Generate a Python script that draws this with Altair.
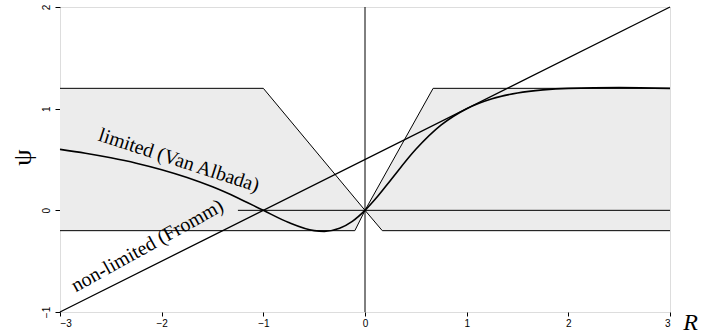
import altair as alt
import pandas as pd

# Van Albada limited curve
R_curve = [-3, -2.75, -2.5, -2.25, -2, -1.75, -1.5, -1.25, -1, -0.75, -0.5, -0.4,
           -0.25, -0.125, 0, 0.125, 0.25, 0.5, 0.75, 1, 1.25, 1.5, 1.75, 2, 2.5, 3]
psi_curve = [0.6, 0.562, 0.517, 0.464, 0.4, 0.323, 0.231, 0.122, 0, -0.12, -0.2, -0.207,
             -0.176, -0.108, 0, 0.138, 0.294, 0.6, 0.84, 1.0, 1.098, 1.154, 1.185, 1.2, 1.207, 1.2]

# Fromm (non-limited) straight line
R_fromm = [-3, 3]
psi_fromm = [-1, 2]

# Shaded region pieces
R_left = [-3, -1, -0.1, 0]
low_left = [-0.2, -0.2, -0.2, 0]
up_left = [1.2, 1.2, 0.12, 0]
R_right = [0, 0.17, 0.67, 3]
low_right = [0, -0.2, -0.2, -0.2]
up_right = [0, 0.3, 1.2, 1.2]

# Region outlines (polygon vertices)
outline_left_R = [-3, -1, 0, -0.1, -3]
outline_left_psi = [1.2, 1.2, 0, -0.2, -0.2]
outline_right_R = [3, 0.67, 0, 0.17, 3]
outline_right_psi = [1.2, 1.2, 0, -0.2, -0.2]

# Reference lines
hline_R = [-1.25, 3]
vline_psi = [-1, 2]

x_ticks = [-3, -2, -1, 0, 1, 2, 3]
y_ticks = [-1, 0, 1, 2]

label_text = ["limited (Van Albada)", "non-limited (Fromm)"]
label_R = [-1.83, -2.14]
label_psi = [0.49, -0.35]
label_angle = [18, 331]

xs = alt.Scale(domain=[-3, 3], nice=False, zero=False)
ys = alt.Scale(domain=[-1, 2], nice=False, zero=False)

FILL = "#ececec"

xaxis = alt.Axis(values=x_ticks, format="d", grid=False, domain=False,
                 labelFont="Liberation Sans", labelFontSize=10, labelColor="black",
                 tickColor="black", tickSize=4, labelPadding=2,
                 title="R", titleFont="Liberation Serif", titleFontSize=24,
                 titleFontStyle="italic", titleFontWeight="normal", titleColor="black",
                 titleX=630, titleY=10, titleAlign="center", titleBaseline="middle")
yaxis = alt.Axis(values=y_ticks, format="d", grid=False, domain=False,
                 labelFont="Liberation Sans", labelFontSize=10, labelColor="black",
                 labelAngle=270, labelAlign="center", labelBaseline="bottom",
                 tickColor="black", tickSize=5, labelPadding=4,
                 title="ψ", titleFont="Liberation Serif", titleFontSize=26,
                 titleFontWeight="normal", titleColor="black",
                 titleX=-38, titleY=150, titleAngle=270,
                 titleAlign="center", titleBaseline="middle")

df_left = pd.DataFrame({"R": R_left, "lo": low_left, "hi": up_left})
df_right = pd.DataFrame({"R": R_right, "lo": low_right, "hi": up_right})

area_left = alt.Chart(df_left).mark_area(color=FILL, opacity=1).encode(
    x=alt.X("R:Q", scale=xs, axis=xaxis),
    y=alt.Y("lo:Q", scale=ys, axis=yaxis),
    y2="hi:Q")
area_right = alt.Chart(df_right).mark_area(color=FILL, opacity=1).encode(
    x=alt.X("R:Q", scale=xs), y=alt.Y("lo:Q", scale=ys), y2="hi:Q")

ol_rows = []
for i, (r, p) in enumerate(zip(outline_left_R, outline_left_psi)):
    ol_rows.append({"R": r, "psi": p, "o": i, "g": "L"})
for i, (r, p) in enumerate(zip(outline_right_R, outline_right_psi)):
    ol_rows.append({"R": r, "psi": p, "o": i, "g": "Rt"})
outline = alt.Chart(pd.DataFrame(ol_rows)).mark_line(color="black", strokeWidth=1).encode(
    x=alt.X("R:Q", scale=xs), y=alt.Y("psi:Q", scale=ys), order="o:Q", detail="g:N")

hline = alt.Chart(pd.DataFrame({"R": hline_R, "psi": [0, 0]})).mark_line(
    color="black", strokeWidth=1).encode(x=alt.X("R:Q", scale=xs), y=alt.Y("psi:Q", scale=ys))
vline = alt.Chart(pd.DataFrame({"R": [0, 0], "psi": vline_psi, "o": [0, 1]})).mark_line(
    color="black", strokeWidth=1).encode(x=alt.X("R:Q", scale=xs), y=alt.Y("psi:Q", scale=ys),
                                          order="o:Q")

fromm = alt.Chart(pd.DataFrame({"R": R_fromm, "psi": psi_fromm})).mark_line(
    color="black", strokeWidth=1.3).encode(x=alt.X("R:Q", scale=xs), y=alt.Y("psi:Q", scale=ys))

curve = alt.Chart(pd.DataFrame({"R": R_curve, "psi": psi_curve})).mark_line(
    color="black", strokeWidth=1.6, interpolate="monotone").encode(
    x=alt.X("R:Q", scale=xs), y=alt.Y("psi:Q", scale=ys))

labels = alt.Chart(pd.DataFrame({"t": label_text, "R": label_R, "psi": label_psi,
                                 "a": label_angle})).mark_text(
    font="Liberation Serif", fontSize=20, color="black", align="center", baseline="middle"
).encode(x=alt.X("R:Q", scale=xs), y=alt.Y("psi:Q", scale=ys), text="t:N",
         angle=alt.Angle("a:Q", scale=None))

chart = alt.layer(area_left, area_right, outline, hline, vline, fromm, curve, labels).properties(
    width=610, height=305,
    autosize=alt.AutoSizeParams(type="none"),
    padding={"left": 60, "top": 7, "right": 32, "bottom": 21},
).configure_view(stroke="black", strokeWidth=1.5).configure(background="white")

chart.save("out.html", embed_options={"renderer": "svg", "actions": False})
